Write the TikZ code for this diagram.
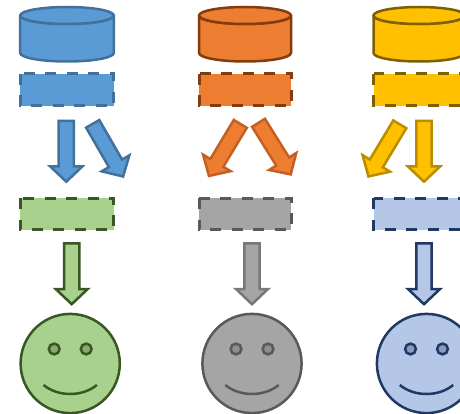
\documentclass[tikz,border=0pt]{standalone}
\definecolor{bluef}{HTML}{5B9BD5}\definecolor{blued}{HTML}{41719C}
\definecolor{orgf}{HTML}{ED7D31}\definecolor{orgd}{HTML}{843C0C}\definecolor{orgm}{HTML}{C55F22}
\definecolor{yelf}{HTML}{FFC000}\definecolor{yeld}{HTML}{7F6000}\definecolor{yelm}{HTML}{BC8C00}
\definecolor{grnf}{HTML}{A9D18E}\definecolor{grnd}{HTML}{385723}
\definecolor{gryf}{HTML}{A5A5A5}\definecolor{gryd}{HTML}{595959}\definecolor{grym}{HTML}{787878}
\definecolor{navf}{HTML}{B4C7E7}\definecolor{navd}{HTML}{203864}
\tikzset{
  shapeline/.style={line width=2.5pt,line join=miter,miter limit=10},
  drumline/.style={line width=2.5pt,line join=round},
  dashbox/.style={line width=3pt,dash pattern=on 11pt off 10.5pt},
  pal/.style n args={2}{fill=#1,draw=#2},
  bluep/.style={pal={bluef}{blued}},
  orgp/.style={pal={orgf}{orgd}},
  yelp/.style={pal={yelf}{yeld}},
  grnp/.style={pal={grnf}{grnd}},
  gryp/.style={pal={gryf}{gryd}},
  navp/.style={pal={navf}{navd}},
}
% tail centre, rotation, fill, line
\newcommand{\blockarr}[4]{\draw[shapeline,fill=#3,draw=#4,shift={(#1)},rotate=#2]
  (-7.6,0.4) -- (-7.6,46) -- (-16,46) -- (0,61.2) -- (16,46) -- (7.6,46) -- (7.6,0.4) -- cycle;}
% left x, right x, style
\newcommand{\drum}[3]{\draw[drumline,#3] (#1,15.5) -- (#1,53)
  arc[start angle=180,end angle=0,x radius={(#2-#1)/2},y radius=8.5] -- (#2,15.5)
  arc[start angle=0,end angle=180,x radius={(#2-#1)/2},y radius=8.5] -- cycle;
  \draw[drumline,#3] (#1,15.5) arc[start angle=180,end angle=360,x radius={(#2-#1)/2},y radius=8.5]
  arc[start angle=0,end angle=180,x radius={(#2-#1)/2},y radius=8.5] -- cycle;}
\newcommand{\dbox}[5]{\fill[#5,draw=none] (#1,#3) rectangle (#2,#4);
  \draw[dashbox,#5,fill=none] (#1,#3) rectangle (#2,#4);}
% centre x, style, line, eye fill
\newcommand{\smiley}[4]{\begin{scope}[shift={(#1,363.5)}]
  \draw[line width=2.5pt,#2] (0,0) circle[radius=49.6];
  \draw[line width=2.5pt,fill=#4,draw=#3] (-16,-14.5) circle[radius=5.4];
  \draw[line width=2.5pt,fill=#4,draw=#3] (16,-14.5) circle[radius=5.4];
  \draw[line width=2.5pt,draw=#3] (-26.7,21.5) .. controls (-12,33.5) and (12,33.5) .. (26.7,21.5);
\end{scope}}
\begin{document}
\begin{tikzpicture}[x=1pt,y=-1pt]
\useasboundingbox (0,0) rectangle (460,414);
\clip (0,0) rectangle (460,414);
\fill[white] (0,0) rectangle (460,414);
\drum{20.2}{113.8}{bluep}
\drum{199}{291}{orgp}
\drum{373.5}{465}{yelp}
\dbox{20.2}{113.8}{74}{106}{bluep}
\dbox{199}{291}{74}{106}{orgp}
\dbox{373.5}{465}{74}{106}{yelp}
\blockarr{66.3,120.5}{0}{bluef}{blued}
\blockarr{92.5,123.5}{30}{bluef}{blued}
\blockarr{240.5,123.5}{-31}{orgf}{orgm}
\blockarr{258.3,122.5}{32}{orgf}{orgm}
\blockarr{400,124}{-31}{yelf}{yelm}
\blockarr{424,120.5}{0}{yelf}{yelm}
\dbox{20.2}{113.8}{198}{229.7}{grnp}
\dbox{199}{291}{198}{229.7}{gryp}
\dbox{373.5}{465}{198}{229.7}{navp}
\blockarr{71.7,243}{0}{grnf}{grnd}
\blockarr{252,243}{0}{gryf}{grym}
\blockarr{424,243}{0}{navf}{navd}
\smiley{70.2}{grnp}{grnd}{grnf!70!grnd}
\smiley{252}{gryp}{gryd}{gryf!70!gryd}
\smiley{426.5}{navp}{navd}{navf!70!navd}
\end{tikzpicture}
\end{document}
